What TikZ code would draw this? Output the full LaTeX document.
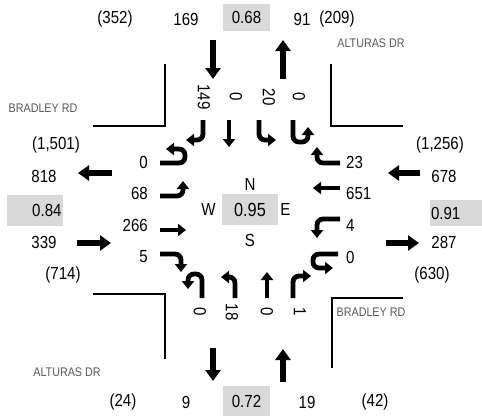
\documentclass[tikz,border=0pt]{standalone}
\usepackage{fontspec}
\setmainfont{Liberation Sans}[FakeStretch=0.86]
\usetikzlibrary{arrows.meta,positioning}
\newcommand{\numfont}{\fontsize{17.5}{20}\selectfont}
\newcommand{\roadfont}{\fontsize{12.5}{14}\selectfont}
\tikzset{
  num/.style   = {font=\numfont, inner sep=0pt},
  vol/.style   = {num, rotate=-90},
  road/.style  = {font=\roadfont, text=black!65, inner sep=0pt},
  vcbox/.style = {num, fill=black!15, minimum width=47pt, minimum height=27pt},
  curb/.style  = {line width=2pt},
  big/.style   = {line width=6pt, -{Triangle[width=15pt,length=11pt]}},
  lane/.style  = {line width=4.8pt, rounded corners=6pt,
                  -{Triangle[width=12pt,length=8pt]}}
}

\begin{document}
\begin{tikzpicture}[x=1pt, y=-1pt]
\useasboundingbox (0,0) rectangle (482,416);

% curbs
\draw[curb] (165,64) -- (165,126) -- (93,126);
\draw[curb] (331,64) -- (331,126) -- (403,126);
\draw[curb] (93,294) -- (165,294) -- (165,359);
\draw[curb] (403,298) -- (332,298) -- (332,368);

\node[road] (rdw) at (43,108) {BRADLEY RD};
\node[road] (rdn) at (371,43) {ALTURAS DR};
\node[road] (rde) at (371,312) {BRADLEY RD};
\node[road] (rds) at (67,372) {ALTURAS DR};

% north leg
\node[num] (n1) at (115,19) {(352)};
\node[num] (n2) at (186,19) {169};
\node[vcbox] (n3) at (246.5,17.5) {0.68};
\node[num] (n4) at (302,19) {91};
\node[num] (n5) at (337,19) {(209)};

% south leg
\node[num] (s1) at (123,402) {(24)};
\node[num] (s2) at (186,402) {9};
\node[vcbox, minimum height=30pt] (s3) at (246.5,401) {0.72};
\node[num] (s4) at (307,402) {19};
\node[num] (s5) at (375,402) {(42)};

% west leg
\node[num] (w1) at (56,145) {(1,501)};
\node[num] (w2) at (44,176) {818};
\node[vcbox, minimum width=56pt, minimum height=31pt, text width=53pt, align=right] (w3) at (35,210.5) {0.84};
\node[num] (w4) at (44,242) {339};
\node[num] (w5) at (63,275) {(714)};

% east leg
\node[num] (e1) at (440,145) {(1,256)};
\node[num] (e2) at (444,176) {678};
\node[vcbox, minimum width=52pt, minimum height=26pt, text width=50pt, align=left] (e3) at (456,213) {0.91};
\node[num] (e4) at (444,242) {287};
\node[num] (e5) at (432,275) {(630)};

% centre
\node[vcbox, minimum width=56pt, minimum height=31pt, font=\fontsize{19}{22}\selectfont] (c) at (250,209.5) {0.95};
\node[num, above=3pt of c] (cn) {N};
\node[num, below=9pt of c] (cs) {S};
\node[num, left=6pt of c] (cw) {W};
\node[num, right=2pt of c] (ce) {E};

% approach arrows
\draw[big] (213,40) -- (213,79);
\draw[big] (283,79) -- (283,40);
\draw[big] (213,348) -- (213,381);
\draw[big] (283,382) -- (283,349);
\draw[big] (112,173) -- (78,173);
\draw[big] (77,243) -- (111,243);
\draw[big] (420,173) -- (388,173);
\draw[big] (386,243) -- (419,243);

% turning volumes
\foreach \v/\x [count=\i] in {149/204, 0/236, 20/269, 0/299}
  \node[vol] (tn\i) at (\x,97) {\v};
\foreach \v/\x [count=\i] in {0/200, 18/232, 0/267, 1/300}
  \node[vol] (ts\i) at (\x,312) {\v};
\foreach \v/\y [count=\i] in {0/162, 68/193, 266/225, 5/257}
  \node[num, anchor=east] (tw\i) at (148,\y) {\v};
\foreach \v/\y [count=\i] in {23/162, 651/193, 4/225, 0/257}
  \node[num, anchor=west] (te\i) at (346,\y) {\v};

% lane arrows, southbound
\draw[lane] (203,120) -- (203,140) -- (186,140);
\draw[lane] (229,120) -- (229,147);
\draw[lane] (259,120) -- (259,140) -- (276,140);
\draw[lane] (293,120) -- (293,142) -- (308,142) -- (308,127);

% eastbound
\draw[lane] (160,163) -- (185,163) -- (185,149) -- (166,149);
\draw[lane] (160,196) -- (183,196) -- (183,181);
\draw[lane] (160,230) -- (186,230);
\draw[lane] (160,254) -- (181,254) -- (181,272);

% northbound
\draw[lane] (202,298) -- (202,274) -- (188,274) -- (188,289);
\draw[lane] (235,298) -- (235,277) -- (221,277);
\draw[lane] (267,298) -- (267,272);
\draw[lane] (293,298) -- (293,276) -- (311,276);

% westbound
\draw[lane] (340,163) -- (317,163) -- (317,147);
\draw[lane] (340,188) -- (313,188);
\draw[lane] (340,219) -- (317,219) -- (317,238);
\draw[lane] (338,254) -- (313,254) -- (313,268) -- (333,268);
\end{tikzpicture}
\end{document}
